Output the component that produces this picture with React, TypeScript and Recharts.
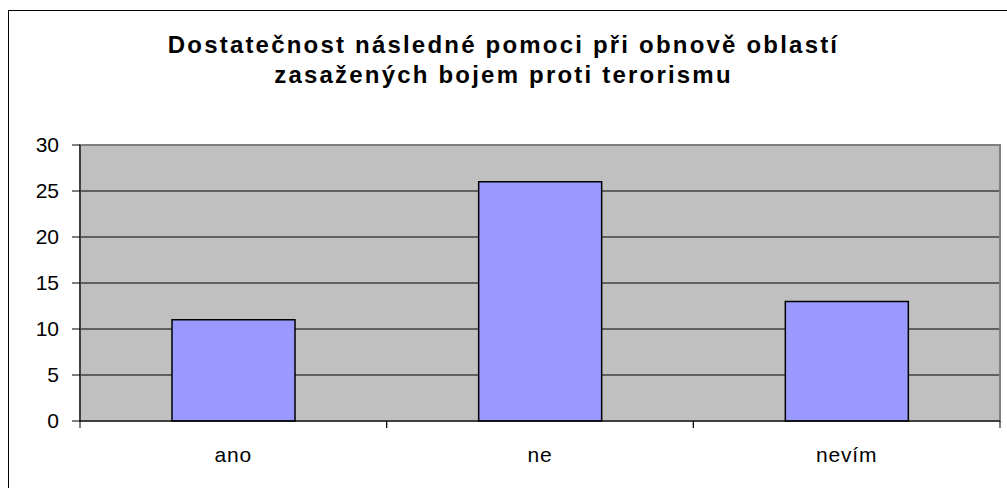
import { BarChart, Bar, XAxis, YAxis, CartesianGrid, ReferenceArea } from "recharts"

const categories = ["ano", "ne", "nevím"]
const counts = [11, 26, 13]
const yTicks = [0, 5, 10, 15, 20, 25, 30]

const data = categories.map((name, i) => ({ name, value: counts[i] }))

const W = 1007
const H = 488
const X_HEIGHT = 30
const MARGIN = { top: 145, right: 7, left: 0, bottom: 67 - X_HEIGHT }
const Y_WIDTH = 80
const FONT = "'Liberation Sans', Arial, sans-serif"

function CategoryTick(props: any) {
  const { x, y, payload } = props
  const half =
    payload?.offset ?? (W - MARGIN.left - MARGIN.right - Y_WIDTH) / categories.length / 2
  return (
    <g>
      <line x1={x - half} x2={x - half} y1={y} y2={y + 7} stroke="#000" />
      <line x1={x + half} x2={x + half} y1={y} y2={y + 7} stroke="#000" />
      <text
        x={x}
        y={y + 41}
        textAnchor="middle"
        fontSize={21}
        letterSpacing={0.8}
        fill="#000"
        fontFamily={FONT}
      >
        {payload.value}
      </text>
    </g>
  )
}

export default function App() {
  return (
    <div
      style={{
        position: "fixed",
        left: 0,
        top: 0,
        width: W,
        height: H,
        overflow: "hidden",
        background: "#fff",
        fontFamily: FONT,
      }}
    >
      <div
        style={{
          position: "absolute",
          left: 8,
          top: 10,
          width: 1020,
          height: 500,
          border: "1px solid #000",
        }}
      />
      <div
        style={{
          position: "absolute",
          left: 0,
          top: 30,
          width: W,
          textAlign: "center",
          fontWeight: "bold",
          fontSize: 24,
          lineHeight: "30px",
          letterSpacing: 2.2,
          color: "#000",
        }}
      >
        Dostatečnost následné pomoci při obnově oblastí
        <br />
        zasažených bojem proti terorismu
      </div>
      <div style={{ position: "absolute", left: 0, top: 0 }}>
        <BarChart width={W} height={H} data={data} margin={MARGIN} barCategoryGap="30%">
          <CartesianGrid vertical={false} stroke="#000" fill="#C0C0C0" fillOpacity={1} />
          <ReferenceArea
            x1="ano"
            x2="nevím"
            y1={0}
            y2={30}
            fill="none"
            stroke="#808080"
            strokeWidth={2}
            ifOverflow="extendDomain"
          />
          <XAxis
            dataKey="name"
            height={X_HEIGHT}
            axisLine={{ stroke: "#000" }}
            tickLine={false}
            tickSize={0}
            tickMargin={0}
            tick={<CategoryTick />}
            interval={0}
          />
          <YAxis
            width={Y_WIDTH}
            domain={[0, 30]}
            ticks={yTicks}
            interval={0}
            axisLine={{ stroke: "#000" }}
            tickLine={{ stroke: "#000" }}
            tickSize={8}
            tickMargin={13}
            tick={{ fontSize: 21, fill: "#000", fontFamily: FONT }}
          />
          <Bar dataKey="value" fill="#9999FF" stroke="#000" strokeWidth={1.5} isAnimationActive={false} />
        </BarChart>
      </div>
    </div>
  )
}
